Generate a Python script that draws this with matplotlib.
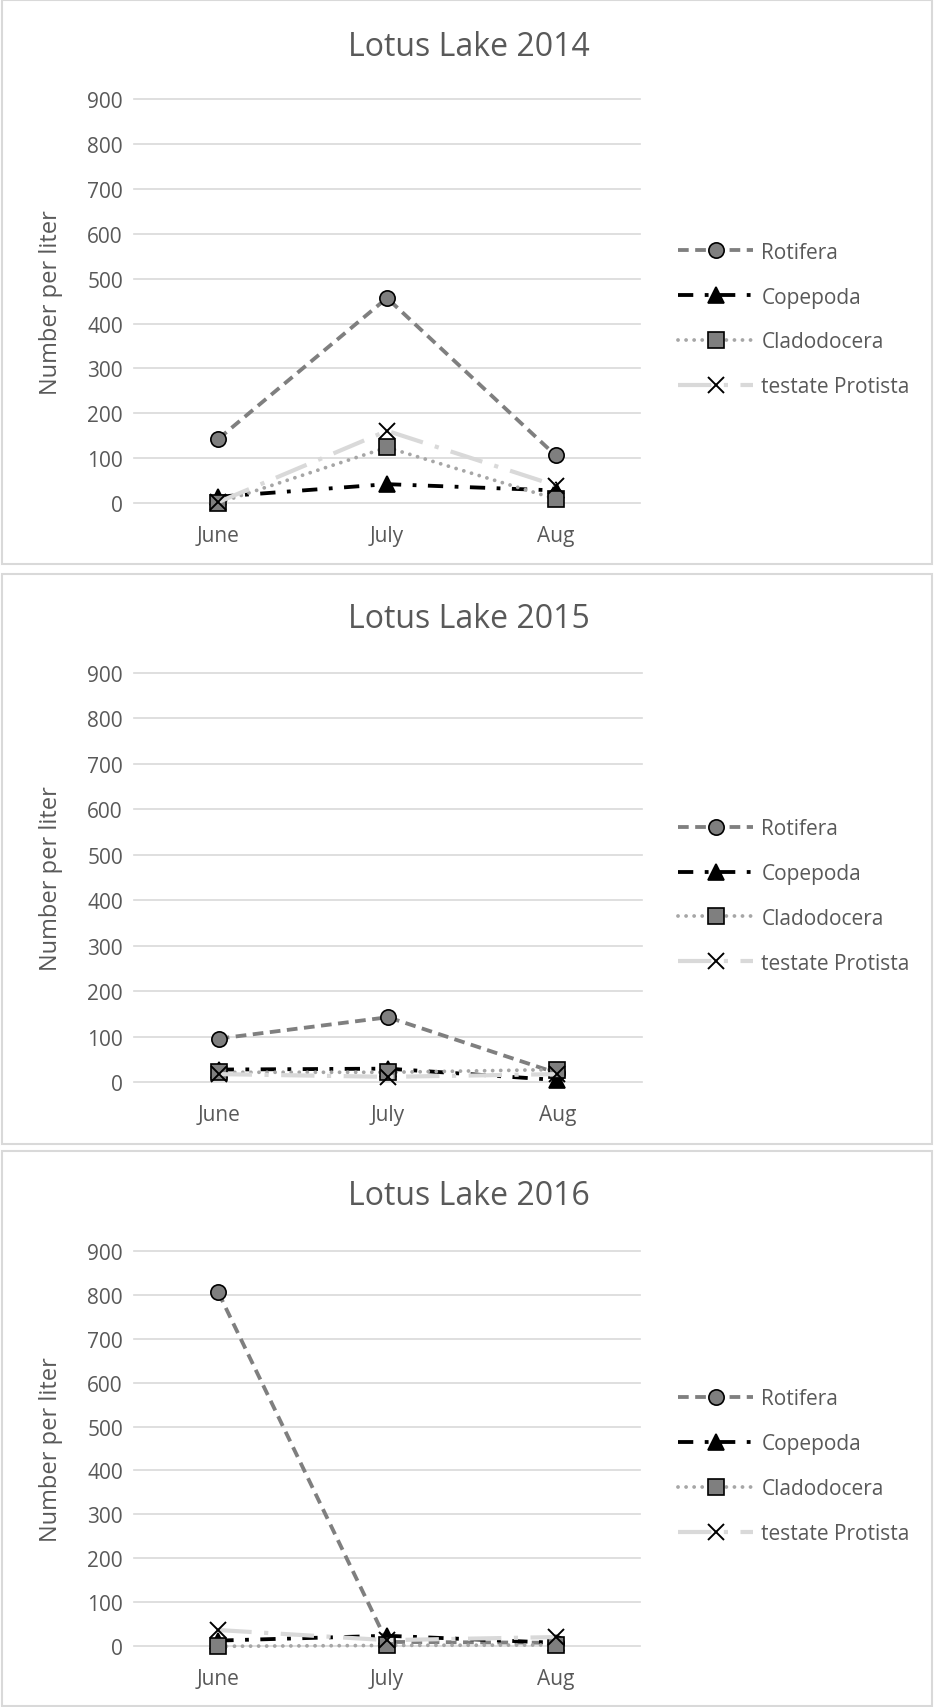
import matplotlib
matplotlib.use("Agg")
import matplotlib.pyplot as plt
from matplotlib.patches import Rectangle

plt.rcParams['font.family'] = ['Open Sans', 'DejaVu Sans']

months = ["June", "July", "Aug"]
years = ["2014", "2015", "2016"]
taxa = ["Rotifera", "Copepoda", "Cladodocera", "testate Protista"]

# number per liter
rotifera = [[143, 457, 106], [96, 143, 20], [805, 10, 8]]
copepoda = [[14, 42, 28], [28, 30, 5], [13, 24, 8]]
cladodocera = [[0, 124, 9], [22, 22, 28], [0, 2, 3]]
protista = [[2, 161, 39], [18, 12, 18], [37, 14, 21]]

y_ticks = [0, 100, 200, 300, 400, 500, 600, 700, 800, 900]

text_col = "#595959"
grid_col = "#d9d9d9"

styles = [
    dict(color="#7f7f7f", lw=2.75, ls=(0, (2.8, 1.7)), marker="o", mfc="#7f7f7f",
         mec="black", mew=1.2, ms=11),
    dict(color="black", lw=2.75, ls=(0, (4, 3, 1, 3)), marker="^", mfc="black",
         mec="black", mew=1.2, ms=11),
    dict(color="#a6a6a6", lw=2.75, ls=(0, (0.01, 2.1)), dash_capstyle="round",
         marker="s", mfc="#7f7f7f", mec="black", mew=1.2, ms=11),
    dict(color="#d9d9d9", lw=3.0, ls=(0, (8, 3, 1, 3)), marker="x", mfc="black",
         mec="black", mew=1.4, ms=11),
]

W, H = 935, 1708
fig = plt.figure(figsize=(W / 100, H / 100), dpi=100)

# panel frames in pixels (top, bottom)
frames = [(1, 565), (575, 1145), (1152, 1707)]
# plot areas in pixels (left, right, y of 900, y of 0)
areas = [(134, 640, 100.3, 504), (134, 642, 673.7, 1083.3), (134, 640, 1251.7, 1647.3)]
title_y = [47, 619, 1196.5]
legend_y = [320.5, 896.8, 1467.3]

for i, yr in enumerate(years):
    top, bot = frames[i]
    fig.patches.append(Rectangle((2 / W, 1 - bot / H), 930 / W, (bot - top) / H,
                                 transform=fig.transFigure, fill=False,
                                 edgecolor=grid_col, lw=1.5))
    l, r, yt, y0 = areas[i]
    ax = fig.add_axes([l / W, 1 - y0 / H, (r - l) / W, (y0 - yt) / H])
    for t in y_ticks:
        ax.axhline(t, color=grid_col, lw=1.2, zorder=0, clip_on=False)

    series = [rotifera[i], copepoda[i], cladodocera[i], protista[i]]
    for name, vals, st in zip(taxa, series, styles):
        ax.plot(months, vals, label=name, clip_on=False, **st)

    ax.set_xlim(-0.5, 2.5)
    ax.set_ylim(0, 900)
    ax.set_yticks(y_ticks)
    for s in ax.spines.values():
        s.set_visible(False)
    ax.tick_params(axis="y", length=0, pad=8, labelsize=15, labelcolor=text_col)
    ax.tick_params(axis="x", length=0, pad=15.5, labelsize=15, labelcolor=text_col)

    fig.text(469 / W, 1 - title_y[i] / H, "Lotus Lake " + yr, ha="center", va="center",
             fontsize=23, color=text_col)
    fig.text(51 / W, 1 - (yt + y0) / 2 / H, "Number per liter", rotation=90,
             ha="center", va="center", fontsize=17, color=text_col)
    ax.legend(loc="center left", bbox_to_anchor=(678 / W, 1 - legend_y[i] / H),
              bbox_transform=fig.transFigure, frameon=False, borderpad=0,
              borderaxespad=0, handlelength=3.6, handletextpad=0.4,
              labelspacing=1.15, fontsize=15, labelcolor=text_col, numpoints=1)

fig.savefig("out.png", dpi=100)
